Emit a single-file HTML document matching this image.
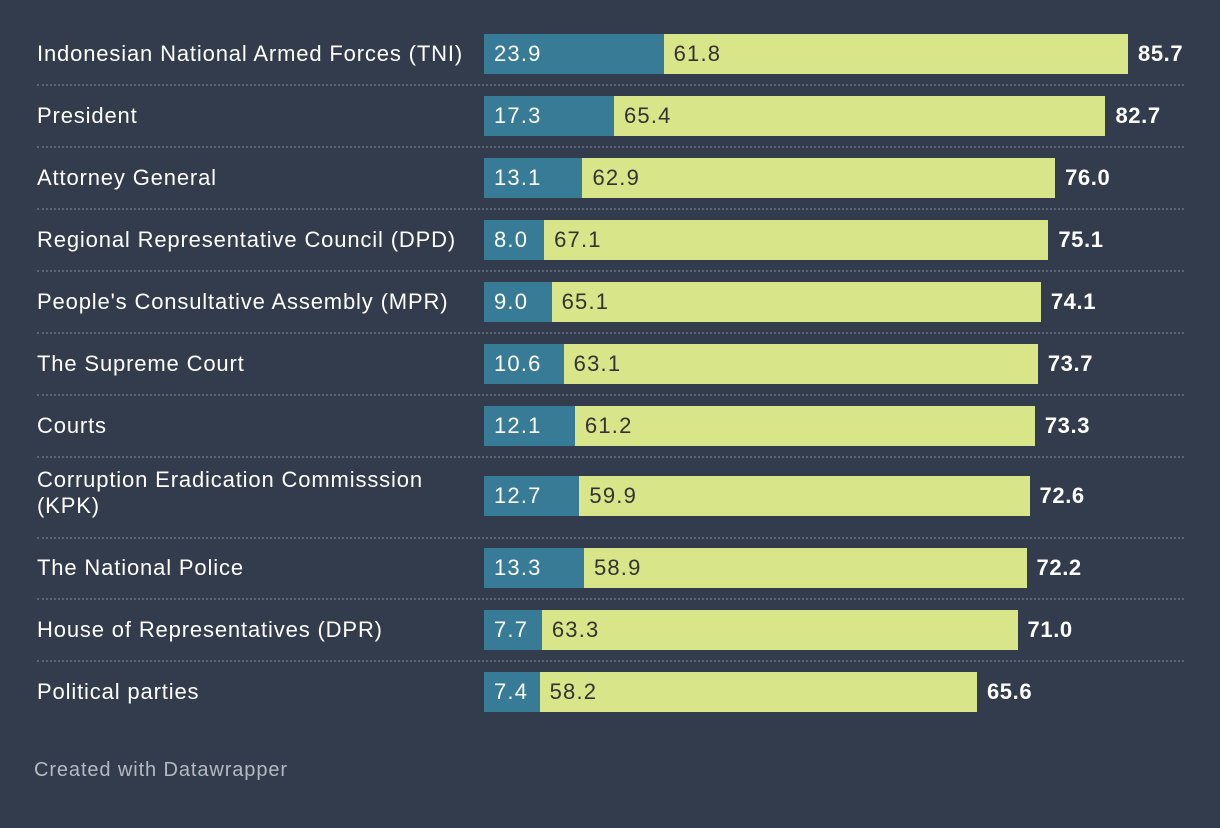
<!DOCTYPE html>
<html><head><meta charset="utf-8"><style>
body{margin:0;background:#333c4c;width:1220px;height:828px;overflow:hidden;font-family:"Liberation Sans",sans-serif;}
#c{position:relative;width:1220px;height:828px;}
.lbl{position:absolute;left:37px;color:#fff;font-size:22px;letter-spacing:0.85px;line-height:26px;width:440px;}
.bar{position:absolute;height:40px;}
.v{position:absolute;font-size:22px;letter-spacing:1.2px;line-height:40px;}
.sep{position:absolute;left:37px;width:1147px;border-top:2px dotted #5c6576;height:0;}
.foot{position:absolute;left:34px;top:759px;color:#b5bac2;font-size:20px;letter-spacing:0.9px;}
</style></head><body>
<div id="c"></div>
<div class="foot">Created with Datawrapper</div>
<script>
const labels=["Indonesian National Armed Forces (TNI)","President","Attorney General","Regional Representative Council (DPD)","People's Consultative Assembly (MPR)","The Supreme Court","Courts","Corruption Eradication Commisssion (KPK)","The National Police","House of Representatives (DPR)","Political parties"];
const seriesA=[23.9,17.3,13.1,8.0,9.0,10.6,12.1,12.7,13.3,7.7,7.4];
const seriesB=[61.8,65.4,62.9,67.1,65.1,63.1,61.2,59.9,58.9,63.3,58.2];
const totals=[85.7,82.7,76.0,75.1,74.1,73.7,73.3,72.6,72.2,71.0,65.6];
const x0=484, k=644/85.7;
const xs=v=>x0+v*k;
const c=document.getElementById('c');
let y=34;
labels.forEach((l,i)=>{
  const tall=i===7;
  const top=tall?y+8:y;
  const lb=document.createElement('div');lb.className='lbl';
  
  
  lb.textContent=l;
  lb.style.top=(tall?y-1:top+7)+'px';
  if(tall)lb.style.width='420px';
  c.appendChild(lb);
  const a=document.createElement('div');a.className='bar';
  
  
  a.style.cssText=`left:${x0}px;top:${top}px;width:${xs(seriesA[i])-x0}px;background:#387b96`;
  c.appendChild(a);
  const b=document.createElement('div');b.className='bar';
  
  
  b.style.cssText=`left:${xs(seriesA[i])}px;top:${top}px;width:${xs(seriesA[i]+seriesB[i])-xs(seriesA[i])}px;background:#d9e589`;
  c.appendChild(b);
  const va=document.createElement('div');va.className='v';
  
  
  va.textContent=seriesA[i].toFixed(1);va.style.cssText=`left:${x0+10}px;top:${top}px;color:#fff`;
  c.appendChild(va);
  const vb=document.createElement('div');vb.className='v';
  
  
  vb.textContent=seriesB[i].toFixed(1);vb.style.cssText=`left:${xs(seriesA[i])+10}px;top:${top}px;color:#333`;
  c.appendChild(vb);
  const vt=document.createElement('div');vt.className='v';
  
  
  vt.textContent=totals[i].toFixed(1);vt.style.cssText=`left:${xs(seriesA[i]+seriesB[i])+10}px;top:${top}px;color:#fff;font-weight:bold;letter-spacing:0.6px`;
  c.appendChild(vt);
  const h=tall?80:62;
  if(i<labels.length-1){
    const s=document.createElement('div');s.className='sep';
    
    
    s.style.top=(y+h-12+(tall?1:0))+'px';
    c.appendChild(s);
  }
  y+=h;
});
</script>
</body></html>
